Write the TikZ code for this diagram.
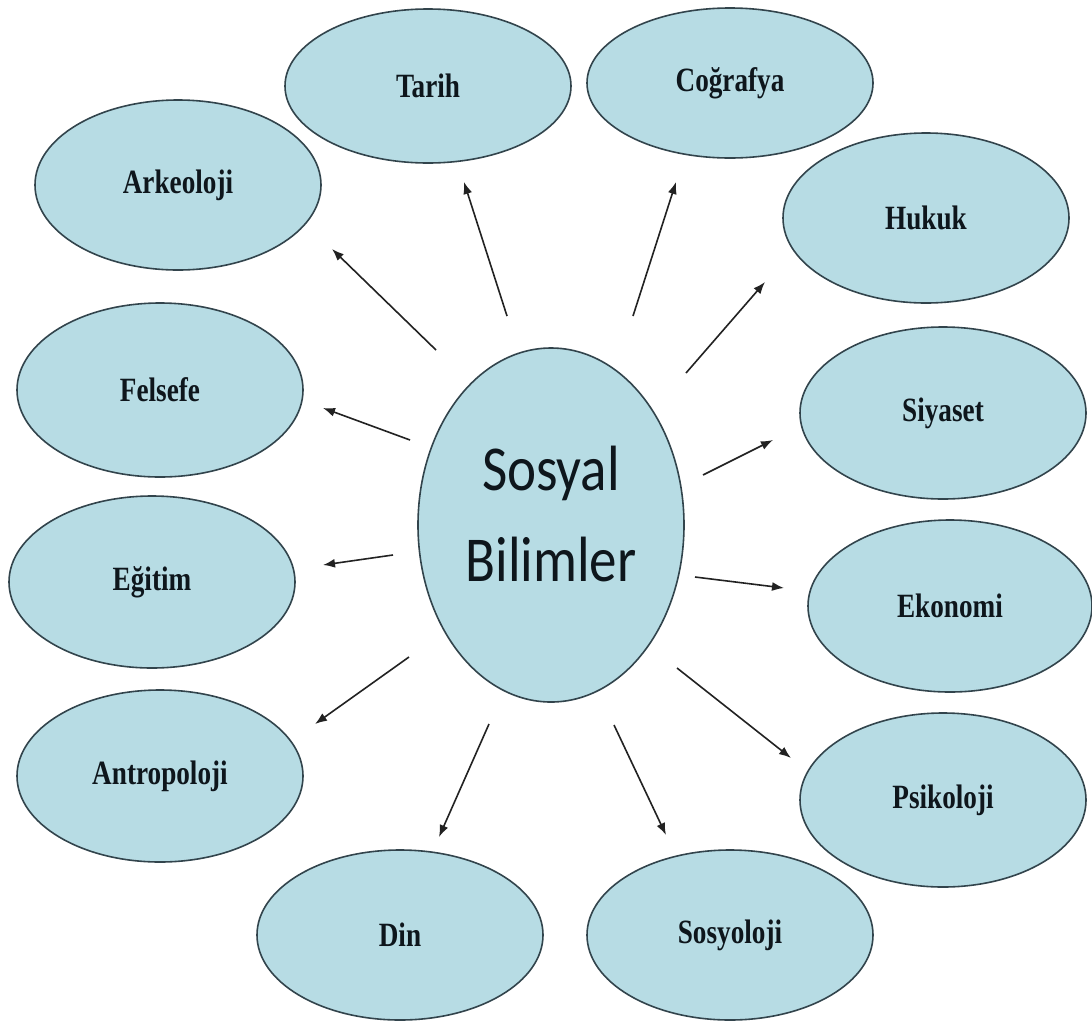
\documentclass[tikz,border=0pt]{standalone}
\usepackage{fontspec}
\usetikzlibrary{shapes.geometric,arrows.meta}
\newfontfamily\lblfont[FakeStretch=0.8]{Liberation Serif}
\newfontfamily\ctrfont[FakeStretch=0.86]{Carlito}
\definecolor{ellfill}{RGB}{183,220,228}
\definecolor{elldraw}{RGB}{50,68,76}
\definecolor{arrcol}{RGB}{34,34,34}
\definecolor{txtcol}{RGB}{14,22,28}
\begin{document}
\begin{tikzpicture}[x=1pt,y=-1pt,
  topic/.style={ellipse, draw=elldraw, fill=ellfill, line width=1.6pt,
    minimum width=286pt, minimum height=170pt, inner sep=0pt,
    font=\lblfont\bfseries\fontsize{34}{40}\selectfont, text=txtcol},
  hub/.style={ellipse, draw=elldraw, fill=ellfill, line width=1.6pt,
    minimum width=266pt, minimum height=354pt, inner sep=0pt},
  hubtext/.style={align=center, inner sep=0pt, text=txtcol,
    font=\ctrfont\fontsize{64}{91}\selectfont},
  arr/.style={draw=arrcol, line width=1.6pt, -{Latex[length=12pt,width=9pt]}}]
\useasboundingbox (0,0) rectangle (1092,1021);
\fill[white] (0,0) rectangle (1092,1021);

% central node
\node[hub] (c) at (551,525) {};
\node[hubtext] (ctext) at (551,514) {Sosyal\\Bilimler};

% surrounding nodes
\node[topic, minimum height=154pt] (tarih) at (428,86) {Tarih};
\node[topic, minimum height=150pt] (cografya) at (730,83) {Coğrafya};
\node[topic] (arkeoloji) at (178,185) {Arkeoloji};
\node[topic] (hukuk) at (926,218) {Hukuk};
\node[topic, minimum height=174pt] (felsefe) at (160,390) {Felsefe};
\node[topic, minimum height=172pt] (siyaset) at (943,413) {Siyaset};
\node[topic, minimum height=172pt] (egitim) at (152,582) {Eğitim};
\node[topic, minimum width=284pt, minimum height=172pt] (ekonomi) at (950,606) {Ekonomi};
\node[topic, minimum height=172pt] (antropoloji) at (160,776) {Antropoloji};
\node[topic, minimum height=174pt] (psikoloji) at (943,800) {Psikoloji};
\node[topic] (din) at (400,935) {Din};
\node[topic] (sosyoloji) at (730,935) {Sosyoloji};

% arrow end points (free ends)
\coordinate (aT0) at (507,316);  \coordinate (aT1) at (464,182);
\coordinate (aC0) at (633,316);  \coordinate (aC1) at (676,182);
\coordinate (aA0) at (436,350);  \coordinate (aA1) at (332,249);
\coordinate (aH0) at (686,373);  \coordinate (aH1) at (765,282);
\coordinate (aF0) at (410,440);  \coordinate (aF1) at (323,408);
\coordinate (aS0) at (703,475);  \coordinate (aS1) at (773,440);
\coordinate (aE0) at (393,555);  \coordinate (aE1) at (323,565);
\coordinate (aK0) at (695,577);  \coordinate (aK1) at (784,588);
\coordinate (aN0) at (409,657);  \coordinate (aN1) at (315,724);
\coordinate (aP0) at (677,668);  \coordinate (aP1) at (791,758);
\coordinate (aD0) at (489,724);  \coordinate (aD1) at (439,837);
\coordinate (aY0) at (614,725);  \coordinate (aY1) at (666,835);

\draw[arr] (aT0) -- (aT1);
\draw[arr] (aC0) -- (aC1);
\draw[arr] (aA0) -- (aA1);
\draw[arr] (aH0) -- (aH1);
\draw[arr] (aF0) -- (aF1);
\draw[arr] (aS0) -- (aS1);
\draw[arr] (aE0) -- (aE1);
\draw[arr] (aK0) -- (aK1);
\draw[arr] (aN0) -- (aN1);
\draw[arr] (aP0) -- (aP1);
\draw[arr] (aD0) -- (aD1);
\draw[arr] (aY0) -- (aY1);
\end{tikzpicture}
\end{document}
